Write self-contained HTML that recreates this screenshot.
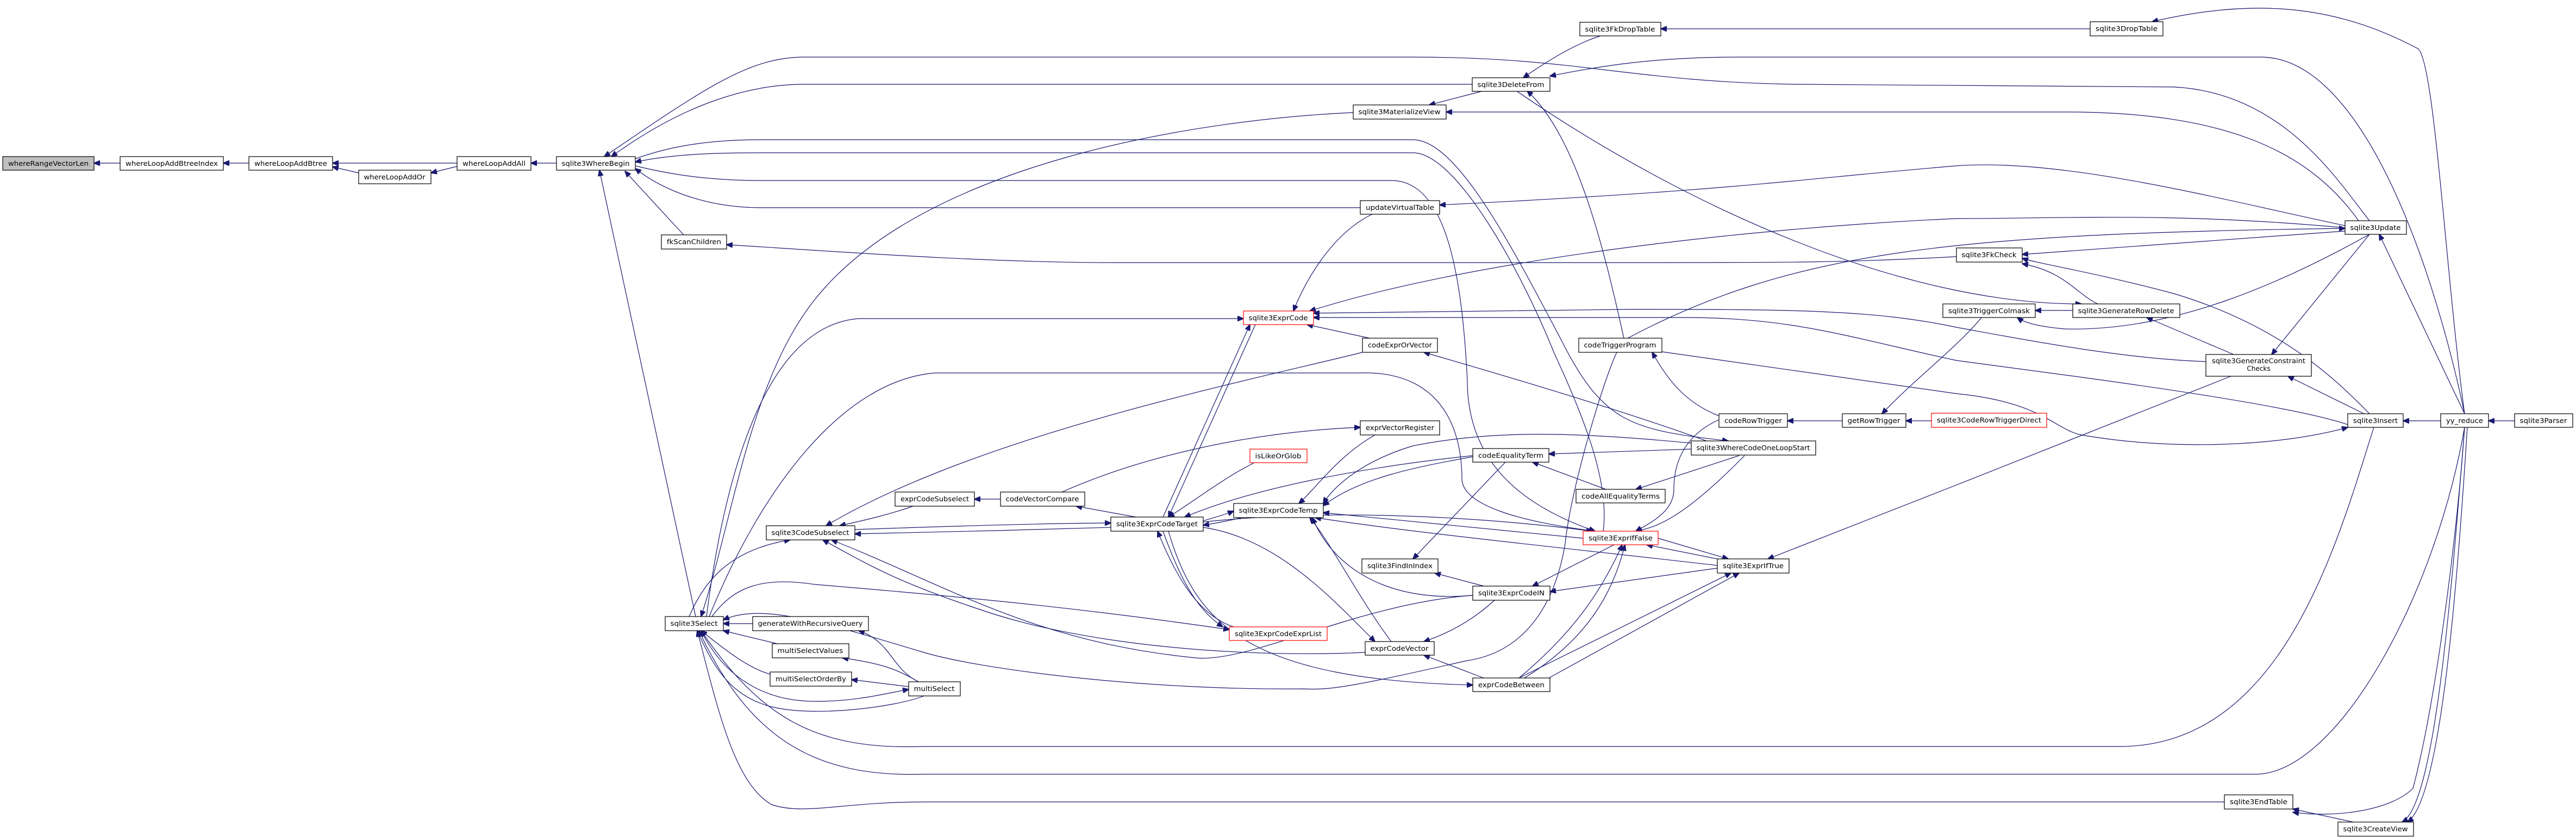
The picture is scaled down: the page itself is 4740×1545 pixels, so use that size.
<!DOCTYPE html>
<html><head><meta charset="utf-8"><style>
html,body{margin:0;padding:0;background:#fff;}
svg{display:block;}
text{font-family:"DejaVu Sans","Liberation Sans",sans-serif;font-size:12px;fill:#000;}
.e{fill:none;stroke:#191970;stroke-width:1.2;marker-end:url(#a);}
.n{fill:#fff;stroke:#000;stroke-width:1.2;}
.r{fill:#fff;stroke:#ff0000;stroke-width:1.2;}
.g{fill:#bfbfbf;stroke:#000;stroke-width:1.2;}
</style></head><body>
<svg width="4740" height="1545" viewBox="0 0 4740 1545" xmlns="http://www.w3.org/2000/svg">
<defs><marker id="a" markerWidth="12" markerHeight="10" refX="11" refY="5" orient="auto" markerUnits="userSpaceOnUse"><path d="M0,0 L12,5 L0,10 z" fill="#191970" stroke="#191970"/></marker></defs>
<g>
<path class="e" d="M221,300 L173,300"/>
<path class="e" d="M458,300 L411,300"/>
<path class="e" d="M841,300 L612,300"/>
<path class="e" d="M660,318 L612,307"/>
<path class="e" d="M841,306 L793,318"/>
<path class="e" d="M1024,300 L977,300"/>
<path class="e" d="M2709,155 L1480,155 C1380,155 1260,190 1125,288"/>
<path class="e" d="M4360,406 C4300,330 4200,170 4000,160 L3300,155 C3000,150 2900,105 2600,105 L1480,105 C1380,105 1300,160 1112,288"/>
<path class="e" d="M4340,406 C4250,280 4100,206 3800,206 L2661,206"/>
<path class="e" d="M2730,167 L2630,193"/>
<path class="e" d="M2490,207 C2200,220 1700,300 1500,550 C1380,700 1350,950 1290,1134"/>
<path class="e" d="M1169,292 C1230,270 1300,257 1400,257 L2600,257 C2680,257 2780,450 2870,620 C2950,780 3000,790 3180,811"/>
<path class="e" d="M2950,977 C2960,900 2930,800 2860,650 C2800,500 2680,281 2600,281 L1400,281 C1300,281 1230,285 1169,298"/>
<path class="e" d="M1169,305 C1230,320 1300,332 1400,332 L2560,332 C2660,332 2690,500 2700,700 C2700,850 2800,930 2935,977"/>
<path class="e" d="M2503,382 L1400,382 C1300,382 1220,350 1169,310"/>
<path class="e" d="M1258,432 L1150,315"/>
<path class="e" d="M3600,472 C3400,483 3300,483 3000,483 L2050,483 C1800,483 1500,460 1337,450"/>
<path class="e" d="M1280,1134 L1103,313"/>
<path class="e" d="M3846,53 L3056,53"/>
<path class="e" d="M2945,66 C2900,80 2850,110 2803,143"/>
<path class="e" d="M4535,761 C4480,500 4350,105 4160,105 L3200,105 C3050,105 2950,120 2852,140"/>
<path class="e" d="M4535,761 C4500,500 4480,120 4450,90 C4300,10 4150,-5 3960,40"/>
<path class="e" d="M4535,761 L4378,431"/>
<path class="e" d="M4491,774 L4422,774"/>
<path class="e" d="M4627,774 L4579,774"/>
<path class="e" d="M4535,786 C4520,1000 4480,1300 4440,1450 C4400,1490 4300,1505 4219,1494"/>
<path class="e" d="M4535,786 C4510,1100 4480,1480 4420,1512"/>
<path class="e" d="M4540,786 C4520,1100 4490,1470 4430,1512"/>
<path class="e" d="M4330,1512 L4219,1488"/>
<path class="e" d="M4368,786 C4300,1000 4200,1373 3900,1373 L1700,1373 C1500,1380 1400,1320 1290,1160"/>
<path class="e" d="M4535,786 C4480,1100 4300,1424 4150,1424 L1700,1424 C1500,1430 1380,1360 1286,1160"/>
<path class="e" d="M4093,1475 L1700,1475 C1550,1475 1480,1500 1420,1480 C1350,1440 1320,1300 1283,1160"/>
<path class="e" d="M4315,425 C4100,440 3900,455 3721,468"/>
<path class="e" d="M4360,761 C4300,700 4200,600 4000,540 C3850,500 3750,485 3721,475"/>
<path class="e" d="M3860,559 C3820,540 3800,500 3721,485"/>
<path class="e" d="M3814,571 L3745,571"/>
<path class="e" d="M4360,431 C4200,520 4000,610 3800,605 C3740,600 3720,590 3712,584"/>
<path class="e" d="M4110,652 L3950,584"/>
<path class="e" d="M4360,431 L4180,652"/>
<path class="e" d="M4350,761 L4210,692"/>
<path class="e" d="M2790,167 C3100,380 3500,560 3830,559"/>
<path class="e" d="M3647,583 C3600,640 3520,700 3463,761"/>
<path class="e" d="M3390,774 L3289,774"/>
<path class="e" d="M3554,774 L3507,774"/>
<path class="e" d="M3163,765 C3100,740 3070,700 3040,648"/>
<path class="e" d="M2988,622 C2950,450 2900,250 2810,167"/>
<path class="e" d="M2995,622 C3300,460 3600,430 4315,420"/>
<path class="e" d="M3058,647 L3600,724 C3760,740 3780,790 3830,800 C4000,830 4200,820 4320,786"/>
<path class="e" d="M4315,415 C4100,370 3800,290 3600,305 C3300,330 3200,350 2649,377"/>
<path class="e" d="M4315,419 C4000,390 3800,402 3600,402 C3200,420 2700,480 2410,572"/>
<path class="e" d="M4059,665 C3900,660 3700,620 3600,602 C3450,570 3300,569 3000,569 L2417,576"/>
<path class="e" d="M4320,781 C4200,740 3800,690 3600,663 C3400,620 3300,584 3100,584 L2417,584"/>
<path class="e" d="M2525,394 C2450,430 2400,520 2380,572"/>
<path class="e" d="M2140,951 L2300,597"/>
<path class="e" d="M2310,597 L2150,951"/>
<path class="e" d="M2520,622 L2405,597"/>
<path class="e" d="M1300,1134 C1330,900 1400,600 1580,586 L2288,586"/>
<path class="e" d="M1305,1134 C1400,900 1550,700 1720,686 L2500,686 C2660,680 2690,800 2690,880 C2690,930 2800,960 2935,977"/>
<path class="e" d="M1573,974 C1800,966 1950,962 2044,962"/>
<path class="e" d="M2044,970 C1900,974 1700,980 1573,982"/>
<path class="e" d="M1680,931 C1640,945 1600,955 1545,967"/>
<path class="e" d="M1841,918 L1793,918"/>
<path class="e" d="M2090,951 L1980,931"/>
<path class="e" d="M1954,905 C2100,840 2300,794 2503,786"/>
<path class="e" d="M1268,1134 C1300,1060 1350,1010 1454,993"/>
<path class="e" d="M2507,648 C2300,700 1800,800 1520,967"/>
<path class="e" d="M2512,1200 C2300,1210 2000,1190 1800,1120 C1650,1070 1600,1040 1514,993"/>
<path class="e" d="M2710,1095 C2500,1110 2300,1220 2200,1210 C1900,1180 1750,1080 1530,993"/>
<path class="e" d="M2214,958 C2240,950 2250,948 2270,940"/>
<path class="e" d="M2285,952 C2260,958 2240,962 2214,966"/>
<path class="e" d="M2310,850 C2250,880 2200,920 2150,951"/>
<path class="e" d="M2140,977 C2170,1060 2200,1120 2250,1153"/>
<path class="e" d="M2270,1153 C2200,1130 2160,1050 2130,977"/>
<path class="e" d="M2214,970 C2350,990 2450,1100 2530,1180"/>
<path class="e" d="M2150,977 C2200,1150 2300,1250 2710,1260"/>
<path class="e" d="M2214,960 C2500,930 2800,960 2930,977"/>
<path class="e" d="M2913,990 L2435,943"/>
<path class="e" d="M3160,1040 C2900,1010 2600,980 2420,952"/>
<path class="e" d="M2710,840 C2600,860 2500,880 2435,930"/>
<path class="e" d="M2530,800 C2460,840 2420,900 2390,926"/>
<path class="e" d="M2560,1180 C2500,1100 2450,1000 2410,952"/>
<path class="e" d="M2710,1095 C2550,1110 2450,1040 2415,952"/>
<path class="e" d="M3112,826 L2850,835"/>
<path class="e" d="M2955,900 L2820,850"/>
<path class="e" d="M3200,838 L3010,900"/>
<path class="e" d="M3210,838 C3100,950 3050,970 3010,977"/>
<path class="e" d="M3140,811 C3000,760 2800,700 2620,648"/>
<path class="e" d="M3112,815 C2900,795 2750,790 2600,820 C2500,850 2450,900 2435,926"/>
<path class="e" d="M2770,850 L2600,1028"/>
<path class="e" d="M2730,1078 L2640,1054"/>
<path class="e" d="M2970,1002 L2820,1078"/>
<path class="e" d="M3160,1045 L2852,1088"/>
<path class="e" d="M3051,990 L3180,1028"/>
<path class="e" d="M3170,1030 L3030,1002"/>
<path class="e" d="M2795,1247 C2900,1160 2950,1080 2985,1002"/>
<path class="e" d="M2805,1247 C2930,1170 2970,1080 2990,1002"/>
<path class="e" d="M2795,1247 L3185,1054"/>
<path class="e" d="M2850,1247 L3200,1054"/>
<path class="e" d="M2750,1104 C2700,1150 2650,1170 2620,1180"/>
<path class="e" d="M2730,1247 L2620,1205"/>
<path class="e" d="M3163,772 C3100,800 3080,850 3080,900 C3080,940 3040,960 3010,977"/>
<path class="e" d="M4105,692 L3600,892 L3253,1028"/>
<path class="e" d="M2975,648 C2950,700 2890,900 2880,1000 C2860,1120 2800,1200 2700,1215 C2500,1260 2450,1270 2400,1267 C2100,1270 1800,1230 1700,1200 C1500,1140 1400,1110 1331,1140"/>
<path class="e" d="M1310,1134 C1350,1080 1400,1060 1500,1075 C1800,1100 2000,1120 2262,1158"/>
<path class="e" d="M2710,838 C2500,860 2300,900 2180,951"/>
<path class="e" d="M1385,1147 L1331,1147"/>
<path class="e" d="M1430,1184 L1331,1160"/>
<path class="e" d="M1417,1240 C1380,1230 1340,1200 1290,1160"/>
<path class="e" d="M1672,1263 L1567,1250"/>
<path class="e" d="M1690,1254 C1650,1230 1620,1220 1550,1210"/>
<path class="e" d="M1690,1254 C1640,1230 1640,1180 1580,1160"/>
<path class="e" d="M1290,1160 C1330,1240 1400,1290 1500,1290 C1580,1290 1630,1275 1672,1268"/>
<path class="e" d="M1700,1280 C1650,1300 1500,1320 1420,1300 C1340,1280 1310,1220 1283,1160"/>
</g>
<g>
<rect class="g" x="5" y="288" width="168" height="25"/><text x="89" y="305" text-anchor="middle" textLength="148" lengthAdjust="spacingAndGlyphs">whereRangeVectorLen</text>
<rect class="n" x="221" y="288" width="190" height="25"/><text x="316" y="305" text-anchor="middle" textLength="170" lengthAdjust="spacingAndGlyphs">whereLoopAddBtreeIndex</text>
<rect class="n" x="458" y="288" width="154" height="25"/><text x="535" y="305" text-anchor="middle" textLength="134" lengthAdjust="spacingAndGlyphs">whereLoopAddBtree</text>
<rect class="n" x="660" y="313" width="133" height="25"/><text x="726" y="330" text-anchor="middle" textLength="113" lengthAdjust="spacingAndGlyphs">whereLoopAddOr</text>
<rect class="n" x="841" y="288" width="136" height="25"/><text x="909" y="305" text-anchor="middle" textLength="116" lengthAdjust="spacingAndGlyphs">whereLoopAddAll</text>
<rect class="n" x="1024" y="288" width="145" height="25"/><text x="1096" y="305" text-anchor="middle" textLength="125" lengthAdjust="spacingAndGlyphs">sqlite3WhereBegin</text>
<rect class="n" x="1217" y="432" width="120" height="26"/><text x="1277" y="449" text-anchor="middle" textLength="100" lengthAdjust="spacingAndGlyphs">fkScanChildren</text>
<rect class="n" x="1224" y="1134" width="107" height="26"/><text x="1277" y="1151" text-anchor="middle" textLength="87" lengthAdjust="spacingAndGlyphs">sqlite3Select</text>
<rect class="n" x="1385" y="1134" width="213" height="26"/><text x="1491" y="1151" text-anchor="middle" textLength="193" lengthAdjust="spacingAndGlyphs">generateWithRecursiveQuery</text>
<rect class="n" x="1421" y="1184" width="141" height="26"/><text x="1491" y="1201" text-anchor="middle" textLength="121" lengthAdjust="spacingAndGlyphs">multiSelectValues</text>
<rect class="n" x="1417" y="1236" width="150" height="26"/><text x="1492" y="1253" text-anchor="middle" textLength="130" lengthAdjust="spacingAndGlyphs">multiSelectOrderBy</text>
<rect class="n" x="1672" y="1254" width="95" height="26"/><text x="1719" y="1271" text-anchor="middle" textLength="75" lengthAdjust="spacingAndGlyphs">multiSelect</text>
<rect class="n" x="1410" y="967" width="163" height="26"/><text x="1491" y="984" text-anchor="middle" textLength="143" lengthAdjust="spacingAndGlyphs">sqlite3CodeSubselect</text>
<rect class="n" x="1647" y="905" width="146" height="26"/><text x="1720" y="922" text-anchor="middle" textLength="126" lengthAdjust="spacingAndGlyphs">exprCodeSubselect</text>
<rect class="n" x="1841" y="905" width="155" height="26"/><text x="1918" y="922" text-anchor="middle" textLength="135" lengthAdjust="spacingAndGlyphs">codeVectorCompare</text>
<rect class="n" x="2044" y="951" width="170" height="26"/><text x="2129" y="968" text-anchor="middle" textLength="150" lengthAdjust="spacingAndGlyphs">sqlite3ExprCodeTarget</text>
<rect class="r" x="2300" y="826" width="105" height="25"/><text x="2352" y="843" text-anchor="middle" textLength="85" lengthAdjust="spacingAndGlyphs">isLikeOrGlob</text>
<rect class="n" x="2270" y="926" width="165" height="26"/><text x="2352" y="943" text-anchor="middle" textLength="145" lengthAdjust="spacingAndGlyphs">sqlite3ExprCodeTemp</text>
<rect class="r" x="2262" y="1153" width="180" height="25"/><text x="2352" y="1170" text-anchor="middle" textLength="160" lengthAdjust="spacingAndGlyphs">sqlite3ExprCodeExprList</text>
<rect class="r" x="2288" y="572" width="129" height="25"/><text x="2352" y="589" text-anchor="middle" textLength="109" lengthAdjust="spacingAndGlyphs">sqlite3ExprCode</text>
<rect class="n" x="2907" y="41" width="149" height="25"/><text x="2981" y="58" text-anchor="middle" textLength="129" lengthAdjust="spacingAndGlyphs">sqlite3FkDropTable</text>
<rect class="n" x="2709" y="143" width="143" height="25"/><text x="2780" y="160" text-anchor="middle" textLength="123" lengthAdjust="spacingAndGlyphs">sqlite3DeleteFrom</text>
<rect class="n" x="2490" y="193" width="171" height="26"/><text x="2575" y="210" text-anchor="middle" textLength="151" lengthAdjust="spacingAndGlyphs">sqlite3MaterializeView</text>
<rect class="n" x="2503" y="369" width="146" height="25"/><text x="2576" y="386" text-anchor="middle" textLength="126" lengthAdjust="spacingAndGlyphs">updateVirtualTable</text>
<rect class="n" x="2507" y="622" width="138" height="26"/><text x="2576" y="639" text-anchor="middle" textLength="118" lengthAdjust="spacingAndGlyphs">codeExprOrVector</text>
<rect class="n" x="2905" y="622" width="153" height="26"/><text x="2981" y="639" text-anchor="middle" textLength="133" lengthAdjust="spacingAndGlyphs">codeTriggerProgram</text>
<rect class="n" x="3163" y="761" width="126" height="25"/><text x="3226" y="778" text-anchor="middle" textLength="106" lengthAdjust="spacingAndGlyphs">codeRowTrigger</text>
<rect class="n" x="3390" y="761" width="117" height="25"/><text x="3448" y="778" text-anchor="middle" textLength="97" lengthAdjust="spacingAndGlyphs">getRowTrigger</text>
<rect class="r" x="3554" y="760" width="212" height="26"/><text x="3660" y="777" text-anchor="middle" textLength="192" lengthAdjust="spacingAndGlyphs">sqlite3CodeRowTriggerDirect</text>
<rect class="n" x="2503" y="774" width="146" height="26"/><text x="2576" y="791" text-anchor="middle" textLength="126" lengthAdjust="spacingAndGlyphs">exprVectorRegister</text>
<rect class="n" x="2710" y="825" width="140" height="25"/><text x="2780" y="842" text-anchor="middle" textLength="120" lengthAdjust="spacingAndGlyphs">codeEqualityTerm</text>
<rect class="n" x="3112" y="811" width="229" height="26"/><text x="3226" y="828" text-anchor="middle" textLength="209" lengthAdjust="spacingAndGlyphs">sqlite3WhereCodeOneLoopStart</text>
<rect class="n" x="2900" y="900" width="164" height="25"/><text x="2982" y="917" text-anchor="middle" textLength="144" lengthAdjust="spacingAndGlyphs">codeAllEqualityTerms</text>
<rect class="r" x="2913" y="977" width="138" height="25"/><text x="2982" y="994" text-anchor="middle" textLength="118" lengthAdjust="spacingAndGlyphs">sqlite3ExprIfFalse</text>
<rect class="n" x="3160" y="1028" width="132" height="26"/><text x="3226" y="1045" text-anchor="middle" textLength="112" lengthAdjust="spacingAndGlyphs">sqlite3ExprIfTrue</text>
<rect class="n" x="2506" y="1028" width="140" height="26"/><text x="2576" y="1045" text-anchor="middle" textLength="120" lengthAdjust="spacingAndGlyphs">sqlite3FindInIndex</text>
<rect class="n" x="2710" y="1078" width="142" height="26"/><text x="2781" y="1095" text-anchor="middle" textLength="122" lengthAdjust="spacingAndGlyphs">sqlite3ExprCodeIN</text>
<rect class="n" x="2512" y="1180" width="127" height="25"/><text x="2575" y="1197" text-anchor="middle" textLength="107" lengthAdjust="spacingAndGlyphs">exprCodeVector</text>
<rect class="n" x="2710" y="1247" width="142" height="25"/><text x="2781" y="1264" text-anchor="middle" textLength="122" lengthAdjust="spacingAndGlyphs">exprCodeBetween</text>
<rect class="n" x="3846" y="40" width="134" height="26"/><text x="3913" y="57" text-anchor="middle" textLength="114" lengthAdjust="spacingAndGlyphs">sqlite3DropTable</text>
<rect class="n" x="4315" y="406" width="113" height="25"/><text x="4371" y="423" text-anchor="middle" textLength="93" lengthAdjust="spacingAndGlyphs">sqlite3Update</text>
<rect class="n" x="3600" y="456" width="121" height="26"/><text x="3660" y="473" text-anchor="middle" textLength="101" lengthAdjust="spacingAndGlyphs">sqlite3FkCheck</text>
<rect class="n" x="3575" y="559" width="170" height="25"/><text x="3660" y="576" text-anchor="middle" textLength="150" lengthAdjust="spacingAndGlyphs">sqlite3TriggerColmask</text>
<rect class="n" x="3814" y="559" width="197" height="25"/><text x="3912" y="576" text-anchor="middle" textLength="177" lengthAdjust="spacingAndGlyphs">sqlite3GenerateRowDelete</text>
<rect class="n" x="4059" y="652" width="194" height="40"/><text x="4156" y="668" text-anchor="middle" textLength="172" lengthAdjust="spacingAndGlyphs">sqlite3GenerateConstraint</text><text x="4156" y="682" text-anchor="middle">Checks</text>
<rect class="n" x="4320" y="761" width="102" height="25"/><text x="4371" y="778" text-anchor="middle" textLength="82" lengthAdjust="spacingAndGlyphs">sqlite3Insert</text>
<rect class="n" x="4491" y="761" width="88" height="25"/><text x="4535" y="778" text-anchor="middle" textLength="68" lengthAdjust="spacingAndGlyphs">yy_reduce</text>
<rect class="n" x="4627" y="761" width="107" height="25"/><text x="4680" y="778" text-anchor="middle" textLength="87" lengthAdjust="spacingAndGlyphs">sqlite3Parser</text>
<rect class="n" x="4093" y="1462" width="126" height="26"/><text x="4156" y="1479" text-anchor="middle" textLength="106" lengthAdjust="spacingAndGlyphs">sqlite3EndTable</text>
<rect class="n" x="4302" y="1512" width="139" height="26"/><text x="4371" y="1529" text-anchor="middle" textLength="119" lengthAdjust="spacingAndGlyphs">sqlite3CreateView</text>
</g>
</svg>
</body></html>
